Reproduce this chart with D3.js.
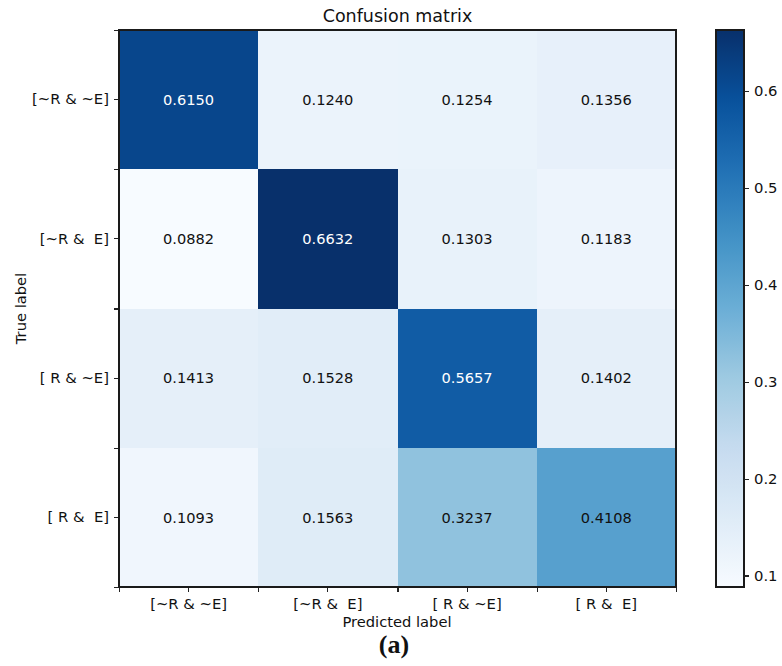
<!DOCTYPE html>
<html>
<head>
<meta charset="utf-8">
<script src="https://cdn.jsdelivr.net/npm/d3@7"></script>
<style>
  html, body { margin: 0; padding: 0; background: #fff; }
  svg { display: block; font-family: "DejaVu Sans", sans-serif; }
  svg text { white-space: pre; }
</style>
</head>
<body>
<svg id="chart" width="782" height="666"></svg>
<script>
// ---- data ----
const trueLabels = ["[~R & ~E]", "[~R &  E]", "[ R & ~E]", "[ R &  E]"];
const predLabels = ["[~R & ~E]", "[~R &  E]", "[ R & ~E]", "[ R &  E]"];
const row0 = [0.6150, 0.1240, 0.1254, 0.1356];
const row1 = [0.0882, 0.6632, 0.1303, 0.1183];
const row2 = [0.1413, 0.1528, 0.5657, 0.1402];
const row3 = [0.1093, 0.1563, 0.3237, 0.4108];
const matrixRows = [row0, row1, row2, row3];
const colorbarTicks = [0.1, 0.2, 0.3, 0.4, 0.5, 0.6];
const titleText = "Confusion matrix";
const xLabelText = "Predicted label";
const yLabelText = "True label";
const captionText = "(a)";
const bluesStops = ["#f7fbff","#deebf7","#c6dbef","#9ecae1","#6baed6","#4292c6","#2171b5","#08519c","#08306b"];

// ---- layout ----
const svg = d3.select("#chart");
svg.attr("shape-rendering", "crispEdges");
const M = { left: 119, top: 30, right: 676, bottom: 587 };
const cb = { left: 716, right: 744 };

const cells = [];
matrixRows.forEach((r, i) => r.forEach((v, j) => cells.push({ i, j, v })));
const allVals = cells.map(d => d.v);
const vmin = d3.min(allVals), vmax = d3.max(allVals);

const x = d3.scaleBand().domain(d3.range(predLabels.length)).range([M.left, M.right]);
const y = d3.scaleBand().domain(d3.range(trueLabels.length)).range([M.top, M.bottom]);
const xEdge = d3.scaleLinear().domain([0, predLabels.length]).range([M.left, M.right]);
const yEdge = d3.scaleLinear().domain([0, trueLabels.length]).range([M.top, M.bottom]);

const blues = d3.scaleLinear()
  .domain(bluesStops.map((_, k) => k / (bluesStops.length - 1)))
  .range(bluesStops)
  .interpolate(d3.interpolateRgb)
  .clamp(true);
const norm = d3.scaleLinear().domain([vmin, vmax]).range([0, 1]);
const color = v => blues(norm(v));
const thresh = vmax / 1.5;

// ---- cells ----
svg.append("g").selectAll("rect").data(cells).join("rect")
  .attr("x", d => x(d.j))
  .attr("y", d => y(d.i))
  .attr("width", x.bandwidth())
  .attr("height", y.bandwidth())
  .attr("fill", d => color(d.v));

svg.append("g").selectAll("text").data(cells).join("text")
  .attr("x", d => x(d.j) + x.bandwidth() / 2)
  .attr("y", d => y(d.i) + y.bandwidth() / 2)
  .attr("text-anchor", "middle")
  .attr("dy", "0.36em")
  .attr("font-size", "14.6px")
  .attr("fill", d => d.v > thresh ? "#ffffff" : "#111111")
  .text(d => d.v.toFixed(4));

// ---- axes ----
const axisStyle = g => {
  g.select(".domain").remove();
  g.selectAll(".tick line").attr("stroke", "#222").attr("stroke-width", 1.2);
  g.selectAll(".tick text").attr("font-size", "14.8px").attr("fill", "#111")
    .attr("font-family", "DejaVu Sans, sans-serif")
    .style("white-space", "pre");
};

svg.append("g").attr("transform", `translate(${M.left},0)`)
  .call(d3.axisLeft(y).tickFormat(i => trueLabels[i]).tickSize(5).tickPadding(5))
  .call(axisStyle);
svg.append("g").attr("transform", `translate(${M.left},0)`)
  .call(d3.axisLeft(yEdge).tickValues(d3.range(trueLabels.length + 1)).tickFormat("").tickSize(5))
  .call(axisStyle);

svg.append("g").attr("transform", `translate(0,${M.bottom})`)
  .call(d3.axisBottom(x).tickFormat(i => predLabels[i]).tickSize(5).tickPadding(6))
  .call(axisStyle);
svg.append("g").attr("transform", `translate(0,${M.bottom})`)
  .call(d3.axisBottom(xEdge).tickValues(d3.range(predLabels.length + 1)).tickFormat("").tickSize(5))
  .call(axisStyle);

// frame
svg.append("rect")
  .attr("x", M.left).attr("y", M.top)
  .attr("width", M.right - M.left).attr("height", M.bottom - M.top)
  .attr("fill", "none").attr("stroke", "#1a1a1a").attr("stroke-width", 1.6);

// ---- titles ----
svg.append("text")
  .attr("x", (M.left + M.right) / 2).attr("y", 22)
  .attr("text-anchor", "middle").attr("font-size", "17.5px").attr("fill", "#111")
  .text(titleText);

svg.append("text")
  .attr("x", (M.left + M.right) / 2 - 0.5).attr("y", 627)
  .attr("text-anchor", "middle").attr("font-size", "14.7px").attr("fill", "#111")
  .text(xLabelText);

svg.append("text")
  .attr("transform", `translate(26,${(M.top + M.bottom) / 2}) rotate(-90)`)
  .attr("text-anchor", "middle").attr("font-size", "14.7px").attr("fill", "#111")
  .text(yLabelText);

svg.append("text")
  .attr("x", 394).attr("y", 653)
  .attr("text-anchor", "middle")
  .attr("font-family", "Liberation Serif, DejaVu Serif, serif")
  .attr("font-weight", "bold").attr("font-size", "26px").attr("fill", "#111")
  .text(captionText);

// ---- colorbar ----
const cbScale = d3.scaleLinear().domain([vmin, vmax]).range([M.bottom, M.top]);
const defs = svg.append("defs");
const grad = defs.append("linearGradient").attr("id", "cbgrad")
  .attr("x1", 0).attr("y1", 1).attr("x2", 0).attr("y2", 0);
grad.selectAll("stop").data(d3.range(0, 1.0001, 0.02)).join("stop")
  .attr("offset", t => t)
  .attr("stop-color", t => blues(t));

svg.append("rect")
  .attr("x", cb.left).attr("y", M.top)
  .attr("width", cb.right - cb.left).attr("height", M.bottom - M.top)
  .attr("fill", "url(#cbgrad)")
  .attr("stroke", "#1a1a1a").attr("stroke-width", 1.6);

svg.append("g").attr("transform", `translate(${cb.right},0)`)
  .call(d3.axisRight(cbScale).tickValues(colorbarTicks).tickFormat(d3.format(".1f")).tickSize(5).tickPadding(5))
  .call(axisStyle);
</script>
</body>
</html>
